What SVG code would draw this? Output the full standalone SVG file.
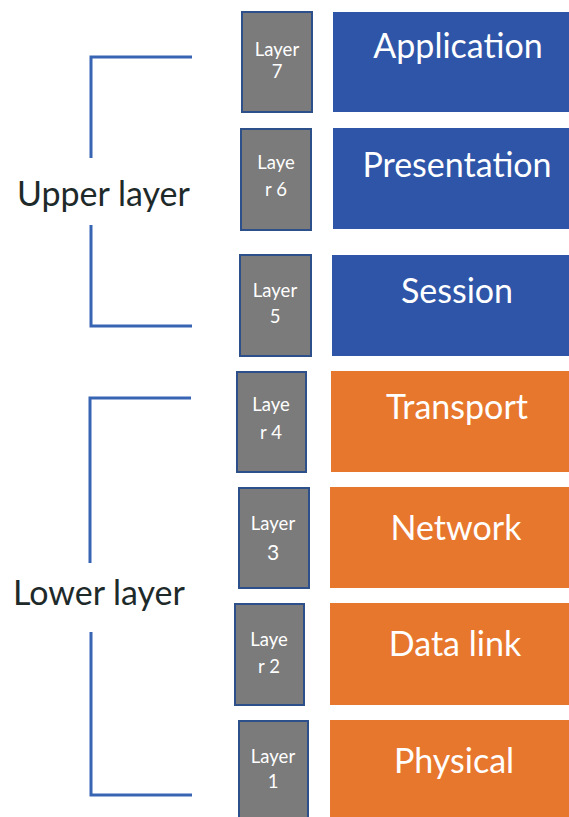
<svg xmlns="http://www.w3.org/2000/svg" width="569" height="817" viewBox="0 0 569 817">
  <style>
    .num { fill: #7b7b7b; stroke: #2d4f8a; stroke-width: 2; }
    .upper { fill: #2e55a8; }
    .lower { fill: #e8772e; }
    .num-t { font-family: Lato, "Open Sans", sans-serif; font-size: 18.5px; fill: #ffffff; text-anchor: middle; }
    .name-t { font-family: Lato, "Open Sans", sans-serif; font-size: 34px; fill: #ffffff; text-anchor: middle; }
    .group-t { font-family: Lato, "Open Sans", sans-serif; font-size: 34px; fill: #1e2a2a; }
    .bracket { fill: none; stroke: #3864b4; stroke-width: 3; }
  </style>
  <rect width="569" height="817" fill="#ffffff"/>

  <!-- brackets grouping the layers -->
  <g id="connectors">
    <polyline class="bracket" points="192,57 91,57 91,158"/>
    <polyline class="bracket" points="91,225 91,326 192,326"/>
    <polyline class="bracket" points="191,398 90,398 90,563"/>
    <polyline class="bracket" points="91,632 91,795 192,795"/>
  </g>

  <g id="upper-layer-label">
    <text class="group-t" x="17" y="206">Upper layer</text>
  </g>
  <g id="lower-layer-label">
    <text class="group-t" x="13" y="605">Lower layer</text>
  </g>

  <!-- layer 7 -->
  <g id="layer7">
    <rect class="num" x="242" y="12" width="70" height="100"/>
    <text class="num-t" x="277" y="56">Layer</text>
    <text class="num-t" x="277" y="78">7</text>
    <rect class="upper" x="333" y="12" width="250" height="100"/>
    <text class="name-t" x="458" y="58">Application</text>
  </g>

  <!-- layer 6 -->
  <g id="layer6">
    <rect class="num" x="241" y="129" width="70" height="101"/>
    <text class="num-t" x="276" y="169">Laye</text>
    <text class="num-t" x="276" y="196">r 6</text>
    <rect class="upper" x="333" y="128" width="250" height="101"/>
    <text class="name-t" x="457" y="177">Presentation</text>
  </g>

  <!-- layer 5 -->
  <g id="layer5">
    <rect class="num" x="240" y="255" width="71" height="101"/>
    <text class="num-t" x="275" y="297">Layer</text>
    <text class="num-t" x="275" y="323">5</text>
    <rect class="upper" x="332" y="255" width="250" height="101"/>
    <text class="name-t" x="457" y="303">Session</text>
  </g>

  <!-- layer 4 -->
  <g id="layer4">
    <rect class="num" x="237" y="372" width="69" height="100"/>
    <text class="num-t" x="271" y="411">Laye</text>
    <text class="num-t" x="271" y="439">r 4</text>
    <rect class="lower" x="331" y="371" width="250" height="101"/>
    <text class="name-t" x="457" y="419">Transport</text>
  </g>

  <!-- layer 3 -->
  <g id="layer3">
    <rect class="num" x="239" y="488" width="70" height="100"/>
    <text class="num-t" x="273" y="530">Layer</text>
    <text class="num-t" x="273" y="560" style="font-size:21px">3</text>
    <rect class="lower" x="330" y="487" width="250" height="101"/>
    <text class="name-t" x="456" y="540">Network</text>
  </g>

  <!-- layer 2 -->
  <g id="layer2">
    <rect class="num" x="235" y="604" width="69" height="101"/>
    <text class="num-t" x="269" y="646">Laye</text>
    <text class="num-t" x="269" y="673">r 2</text>
    <rect class="lower" x="330" y="603" width="250" height="102"/>
    <text class="name-t" x="455" y="656">Data link</text>
  </g>

  <!-- layer 1 -->
  <g id="layer1">
    <rect class="num" x="239" y="721" width="69" height="100"/>
    <text class="num-t" x="273" y="763">Layer</text>
    <text class="num-t" x="273" y="788">1</text>
    <rect class="lower" x="330" y="720" width="250" height="100"/>
    <text class="name-t" x="454" y="773">Physical</text>
  </g>
</svg>
